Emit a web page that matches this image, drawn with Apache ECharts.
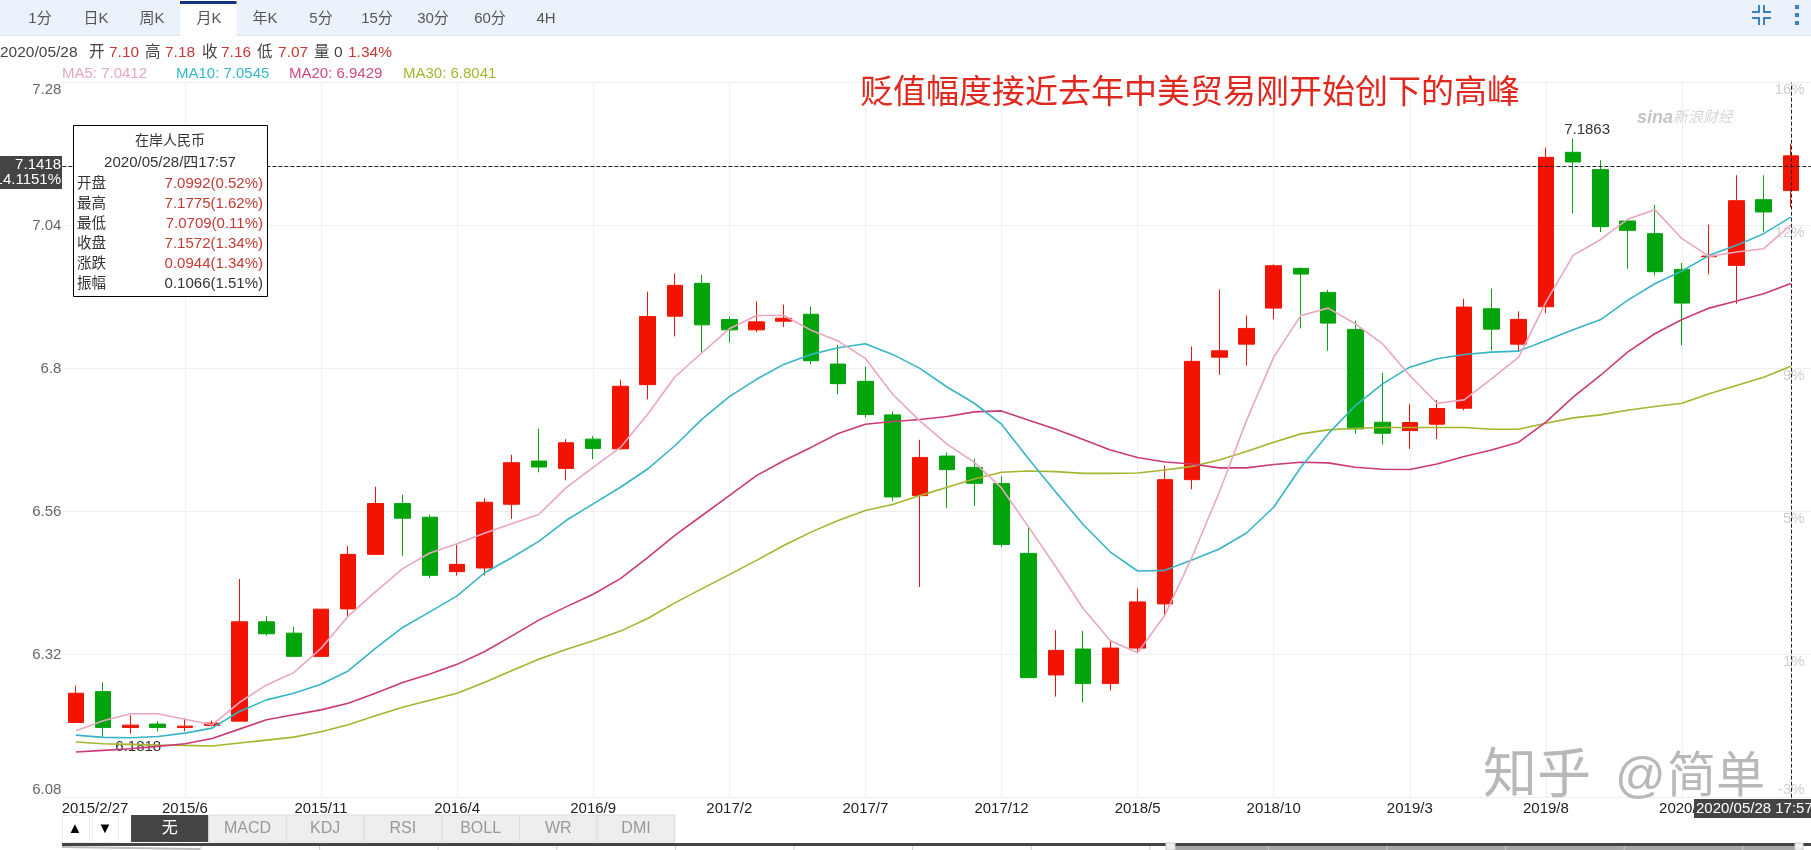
<!DOCTYPE html>
<html lang="zh">
<head>
    <meta charset="UTF-8">
    <title>在岸人民币 月K</title>
    <script src="https://cdn.jsdelivr.net/npm/echarts@6/dist/echarts.min.js"></script>
    <style>
        html,body{margin:0;padding:0;background:#fff;overflow:hidden}
        #main{width:1811px;height:850px}
    </style>
</head>
<body>
    <div id="main"></div>
    <script>
        var categories=['2015/2/27','2015/3','2015/4','2015/5','2015/6','2015/7','2015/8','2015/9','2015/10','2015/11','2015/12',
            '2016/1','2016/2','2016/3','2016/4','2016/5','2016/6','2016/7','2016/8','2016/9','2016/10','2016/11','2016/12',
            '2017/1','2017/2','2017/3','2017/4','2017/5','2017/6','2017/7','2017/8','2017/9','2017/10','2017/11','2017/12',
            '2018/1','2018/2','2018/3','2018/4','2018/5','2018/6','2018/7','2018/8','2018/9','2018/10','2018/11','2018/12',
            '2019/1','2019/2','2019/3','2019/4','2019/5','2019/6','2019/7','2019/8','2019/9','2019/10','2019/11','2019/12',
            '2020/1','2020/2','2020/3','2020/4','2020/5']
        var opens=[6.2063,6.2581,6.1979,6.2035,6.1979,6.2012,6.2085,6.3752,6.3562,6.3172,6.3969,6.4884,6.5737,6.5508,6.4594,6.4655,
            6.5725,6.6450,6.6327,6.6818,6.6656,6.7732,6.8881,6.9433,6.8825,6.8652,6.8797,6.8914,6.8078,6.7788,6.7225,6.5870,
            6.6534,6.6344,6.6071,6.4900,6.2860,6.3295,6.2715,6.3311,6.4053,6.6138,6.8194,6.8412,6.9017,6.9684,6.9280,6.8659,
            6.7102,6.6962,6.7068,6.7337,6.9006,6.8412,6.9040,7.1632,7.1341,7.0479,7.0266,6.9667,6.9880,6.9734,7.0837,7.0992]
        var closes=[6.2553,6.1979,6.2018,6.1979,6.2001,6.2052,6.3752,6.3551,6.3172,6.3964,6.4884,6.5737,6.5491,6.4532,6.4716,6.5759,
            6.6422,6.6350,6.6757,6.6662,6.7705,6.8875,6.9399,6.8736,6.8652,6.8786,6.8847,6.8134,6.7749,6.7231,6.5848,6.6511,
            6.6305,6.6077,6.5051,6.2815,6.3272,6.2715,6.3311,6.4086,6.6138,6.8123,6.8300,6.8676,6.9728,6.9588,6.8765,6.6990,
            6.6917,6.7096,6.7332,6.9034,6.8664,6.8827,7.1548,7.1470,7.0384,7.0322,6.9628,6.9101,6.9890,7.0820,7.0630,7.1572]
        var lows=[6.2063,6.1818,6.1879,6.1912,6.1912,6.1996,6.2085,6.3518,6.3167,6.3167,6.3835,6.4872,6.4861,6.4488,6.4527,6.4532,
            6.5480,6.6261,6.6127,6.6484,6.6640,6.7487,6.8541,6.8268,6.8435,6.8613,6.8697,6.8072,6.7571,6.7180,6.5776,6.4337,
            6.5664,6.5692,6.5006,6.2815,6.2497,6.2397,6.2598,6.3250,6.3846,6.5976,6.7897,6.8054,6.8832,6.8676,6.8300,6.6906,
            6.6727,6.6654,6.6817,6.7303,6.8306,6.8295,6.8933,7.0608,7.0294,6.9678,6.9566,6.8390,6.9583,6.9090,7.0294,7.0709]
        var highs=[6.2681,6.2737,6.2185,6.2079,6.2135,6.2096,6.4471,6.3847,6.3668,6.3964,6.5023,6.6021,6.5882,6.5553,6.5040,6.5826,
            6.6556,6.6991,6.6818,6.6868,6.7816,6.9293,6.9600,6.9578,6.8875,6.9132,6.9076,6.9043,6.8401,6.8033,6.7286,6.6807,
            6.6595,6.6484,6.6199,6.5330,6.3612,6.3596,6.3445,6.4309,6.6372,6.8374,6.9331,6.8894,6.9751,6.9695,6.9325,6.8804,
            6.7931,6.7405,6.7477,6.9174,6.9342,6.8961,7.1711,7.1863,7.1498,7.0490,7.0748,6.9773,7.0417,7.1246,7.1246,7.1775]
        var ma5=[6.1923,6.2091,6.2208,6.2208,6.2118,6.2024,6.2397,6.2693,6.2899,6.3306,6.3847,6.4254,6.4644,6.4906,6.5062,6.5240,
            6.5396,6.5553,6.5999,6.6344,6.6679,6.7236,6.7861,6.8268,6.8669,6.8892,6.8892,6.8647,6.8463,6.8173,6.7571,6.7125,
            6.6734,6.6428,6.5999,6.5341,6.4672,6.3975,6.3434,6.3233,6.3863,6.4839,6.5926,6.7130,6.8194,6.8894,6.9017,6.8754,
            6.8418,6.7886,6.7421,6.7477,6.7830,6.8194,6.9118,6.9902,7.0165,7.0507,7.0669,7.0182,6.9885,6.9958,7.0014,7.0412]
        var ma10=[6.1851,6.1812,6.1806,6.1828,6.1884,6.1968,6.2247,6.2442,6.2553,6.2704,6.2927,6.3306,6.3657,6.3919,6.4187,6.4571,
            6.4828,6.5101,6.5452,6.5731,6.6010,6.6316,6.6707,6.7153,6.7532,6.7822,6.8072,6.8240,6.8351,6.8418,6.8240,6.8006,
            6.7693,6.7420,6.7069,6.6484,6.5926,6.5385,6.4923,6.4605,6.4616,6.4789,6.4974,6.5243,6.5674,6.6346,6.6906,6.7382,
            6.7746,6.8026,6.8166,6.8239,6.8278,6.8295,6.8474,6.8653,6.8821,6.9146,6.9426,6.9639,6.9902,7.0070,7.0266,7.0545]
        var ma20=[6.1566,6.1594,6.1622,6.1661,6.1706,6.1795,6.1951,6.2107,6.2191,6.2274,6.2386,6.2553,6.2732,6.2877,6.3038,6.3250,
            6.3512,6.3780,6.4003,6.4215,6.4477,6.4828,6.5201,6.5536,6.5870,6.6205,6.6456,6.6679,6.6913,6.7069,6.7114,6.7147,
            6.7197,6.7275,6.7292,6.7136,6.6985,6.6813,6.6634,6.6511,6.6433,6.6400,6.6335,6.6335,6.6391,6.6430,6.6419,6.6346,
            6.6312,6.6307,6.6402,6.6525,6.6637,6.6766,6.7102,6.7522,6.7886,6.8278,6.8586,6.8827,6.9017,6.9135,6.9258,6.9429]
        var ma30=[6.1734,6.1706,6.1695,6.1683,6.1678,6.1667,6.1717,6.1767,6.1817,6.1907,6.2024,6.2174,6.2319,6.2436,6.2553,6.2732,
            6.2932,6.3122,6.3289,6.3434,6.3596,6.3808,6.4070,6.4309,6.4544,6.4783,6.5034,6.5257,6.5452,6.5619,6.5720,6.5870,
            6.6010,6.6149,6.6261,6.6283,6.6272,6.6244,6.6244,6.6249,6.6300,6.6361,6.6469,6.6609,6.6766,6.6906,6.6973,6.7001,
            6.7012,6.7012,6.7012,6.7012,6.6984,6.6984,6.7085,6.7175,6.7225,6.7304,6.7365,6.7421,6.7578,6.7718,6.7858,6.8041]
        var yTicks=[6.08,6.32,6.56,6.8,7.04,7.28]
        var pctLabels=['-3%','1%','5%','9%','12%','16%']
        var tabs=['1分','日K','周K','月K','年K','5分','15分','30分','60分','4H']
        var tabX=[40,96,152,209,265,321,377,433,490,546]
        var indicators=['无','MACD','KDJ','RSI','BOLL','WR','DMI']
        var infoNames=['开盘','最高','最低','收盘','涨跌','振幅']
        var infoValues=['7.0992(0.52%)','7.1775(1.62%)','7.0709(0.11%)','7.1572(1.34%)','0.0944(1.34%)','0.1066(1.51%)']
        var crossValue=7.1418
        var lastIndex=63

        var FONT='"Liberation Sans","Noto Sans CJK SC",sans-serif'
        var UP='#f21400',DOWN='#02a40c'

        // 叠在图上的文字和界面元素
        function txt(x,y,text,color,size,align,extra){
            var style={x:x,y:y,text:text,fill:color,font:(size||15)+'px '+FONT,textAlign:align||'left',textVerticalAlign:'middle'}
            if(extra){for(var k in extra){style[k]=extra[k]}}
            return {type:'text',z:100,silent:true,style:style}
        }
        function box(x,y,w,h,fill,stroke){
            return {type:'rect',z:99,silent:true,shape:{x:x,y:y,width:w,height:h},style:{fill:fill,stroke:stroke||null,lineWidth:1}}
        }
        function seg(points,color,width){
            return {type:'polyline',z:100,silent:true,shape:{points:points},style:{stroke:color,lineWidth:width||2,fill:null}}
        }

        var g=[]
        // 顶部周期栏
        g.push(box(0,0,1811,35,'#ebf2fb'))
        g.push(box(0,35,1811,1,'#dbe3ec'))
        g.push(box(180,0,56.5,36,'#ffffff'))
        g.push(box(180,1,56.5,3,'#15367c'))
        tabs.forEach(function(t,i){ g.push(txt(tabX[i],19,t,'#555555',15,'center')) })
        g.push(seg([[1752,12],[1759,12],[1759,5]],'#3f7fc6'))
        g.push(seg([[1771,12],[1764,12],[1764,5]],'#3f7fc6'))
        g.push(seg([[1752,18],[1759,18],[1759,25]],'#3f7fc6'))
        g.push(seg([[1771,18],[1764,18],[1764,25]],'#3f7fc6'))
        g.push(box(1795,5,4,4,'#3f7fc6'),box(1795,13,4,4,'#3f7fc6'),box(1795,21,4,4,'#3f7fc6'))

        // 行情行
        var head=[[0,'2020/05/28','#444444'],[89,'开','#444444'],[109,'7.10','#c23a32'],[145,'高','#444444'],[165,'7.18','#c23a32'],
            [202,'收','#444444'],[221,'7.16','#c23a32'],[257,'低','#444444'],[278,'7.07','#c23a32'],[314,'量','#444444'],
            [334,'0','#444444'],[348,'1.34%','#c23a32']]
        head.forEach(function(h){ g.push(txt(h[0],53,h[1],h[2],15.5)) })
        g.push(txt(62,74,'MA5: 7.0412','#e8a8c2',15))
        g.push(txt(176,74,'MA10: 7.0545','#35b8c8',15))
        g.push(txt(289,74,'MA20: 6.9429','#cc4a86',15))
        g.push(txt(403,74,'MA30: 6.8041','#a0b82e',15))

        // 标注
        g.push(txt(860,94,'贬值幅度接近去年中美贸易刚开始创下的高峰','#e0281e',33))

        // 水印
        g.push(txt(1637,118,'sina','#c5c5c5',18,'left',{font:'italic bold 18px '+FONT}))
        g.push(txt(1673,118,'新浪财经','#d6d6d6',15,'left',{font:'italic 15px '+FONT}))
        g.push(txt(1483,778,'知乎','#b8b8b8',54))
        g.push(txt(1615,778,'@','#b8b8b8',50))
        g.push(txt(1667,778,'简单','#b8b8b8',49))

        // 左侧十字线标签
        g.push(box(0,156,62,33,'#444444'))
        g.push(txt(61,165,'7.1418','#ffffff',15,'right'))
        g.push(txt(61,180,'14.1151%','#ffffff',15,'right'))
        // 底部时间标签
        g.push(box(1694,799,117,19,'#444444'))
        g.push(txt(1696,809,'2020/05/28 17:57','#ffffff',15))

        // 信息框
        g.push(box(73.5,125.5,194,171,'#ffffff','#000000'))
        g.push(txt(170,141,'在岸人民币','#333333',14,'center'))
        g.push(txt(170,163,'2020/05/28/四17:57','#333333',15,'center'))
        infoNames.forEach(function(n,i){
            var y=184+i*20
            g.push(txt(77,y,n,'#333333',14.5))
            g.push(txt(263,y,infoValues[i],i==5?'#333333':'#c23a32',15,'right'))
        })

        // 底部指标按钮
        g.push(box(62.5,815.5,27,27,'#ffffff','#eeeeee'))
        g.push(box(92.5,815.5,26,27,'#ffffff','#eeeeee'))
        g.push(txt(75,829,'▲','#000000',15,'center'))
        g.push(txt(105,829,'▼','#000000',15,'center'))
        indicators.forEach(function(n,i){
            var x=131+i*77.7
            g.push(box(x,815,77.7,27,i==0?'#444444':'#eeeeee',i==0?null:'#dddddd'))
            g.push(txt(x+38.8,829,n,i==0?'#ffffff':'#999999',16,'center'))
        })
        // 缩略条
        g.push(box(62,843,1749,3,'#444444'))
        g.push(box(1171,846,625,4,'#a6a6a6'))
        for(var tx=201;tx<1800;tx+=118.6){
            g.push(seg([[tx,846],[tx,850]],'#cccccc',1))
        }
        g.push(box(1166,843,9,7,'#f0f0f0','#cccccc'))
        g.push(box(1795,843,8,7,'#f0f0f0','#cccccc'))
        g.push(seg([[62,847],[200,849]],'#bbbbbb',2))

        var candle=categories.map(function(c,i){ return [opens[i],closes[i],lows[i],highs[i]] })
        function showTick(i){ return (i+1)%5==0 }

        function maLine(name,data,color){
            return {name:name,type:'line',data:data,symbol:'none',smooth:false,z:5,silent:true,
                lineStyle:{color:color,width:1.6}}
        }

        var myChart=echarts.init(document.getElementById('main'))
        var option={
            animation:false,
            backgroundColor:'#ffffff',
            textStyle:{fontFamily:FONT},
            grid:{left:62.4,top:82.7,width:1769.3,height:715,outerBoundsMode:'none'},
            xAxis:{
                type:'category',
                data:categories.concat(['']),  // 多一格,让网格线伸到画面右边
                boundaryGap:true,
                axisLine:{show:false},
                axisTick:{show:false},
                splitLine:{show:true,alignWithLabel:true,interval:function(i){return showTick(i)},lineStyle:{color:'#efefef',width:1}},
                axisLabel:{
                    color:'#222222',fontSize:15,margin:4,fontFamily:FONT,
                    interval:function(i){return i==0||showTick(i)},
                    formatter:function(v,i){ return i==0?'{first|'+v+'}':v },
                    rich:{first:{color:'#222222',fontSize:15,fontFamily:FONT,padding:[0,0,0,38]}}
                }
            },
            yAxis:[{
                type:'value',
                min:6.08,max:7.28,
                scale:true,
                axisLine:{show:false},
                axisTick:{show:false,customValues:yTicks},
                splitLine:{show:true,lineStyle:{color:'#efefef',width:1}},
                axisLabel:{
                    color:'#666666',fontSize:15,margin:1,fontFamily:FONT,
                    customValues:yTicks,
                    verticalAlignMinLabel:'bottom',verticalAlignMaxLabel:'top',
                    formatter:function(v){ return v==6.8?'6.8':v.toFixed(2) }
                }
            },{
                type:'category',
                position:'right',
                offset:-27,
                data:pctLabels,
                boundaryGap:false,
                axisLine:{show:false},
                axisTick:{show:false},
                splitLine:{show:false},
                axisLabel:{
                    inside:true,margin:0,interval:0,color:'#cfcfcf',fontSize:15,fontFamily:FONT,
                    verticalAlign:'top',verticalAlignMinLabel:'bottom',
                    showMinLabel:true,showMaxLabel:true
                }
            }],
            series:[{
                name:'月K',
                type:'candlestick',
                data:candle,
                barWidth:16,
                z:3,
                silent:true,
                itemStyle:{color:UP,color0:DOWN,borderColor:UP,borderColor0:DOWN,borderWidth:1},
                markLine:{
                    silent:true,symbol:'none',animation:false,label:{show:false},
                    lineStyle:{color:'#222222',type:'dashed',width:1},
                    data:[{yAxis:crossValue},{xAxis:lastIndex}]
                },
                markPoint:{
                    silent:true,symbol:'circle',symbolSize:0,animation:false,
                    label:{show:true,position:'inside',color:'#333333',fontSize:15,fontFamily:FONT,
                        formatter:function(p){return p.value.toFixed(4)}},
                    data:[
                        {coord:[1,lows[1]],value:lows[1],label:{offset:[35,10]}},
                        {coord:[55,highs[55]],value:highs[55],label:{offset:[14,-9]}}
                    ]
                }
            },
                maLine('MA30',ma30,'#a6b42e'),
                maLine('MA20',ma20,'#cb3a78'),
                maLine('MA10',ma10,'#36b5c6'),
                maLine('MA5',ma5,'#e9a6c0')
            ],
            graphic:{elements:g}
        }
        myChart.setOption(option)
    </script>
</body>
</html>
